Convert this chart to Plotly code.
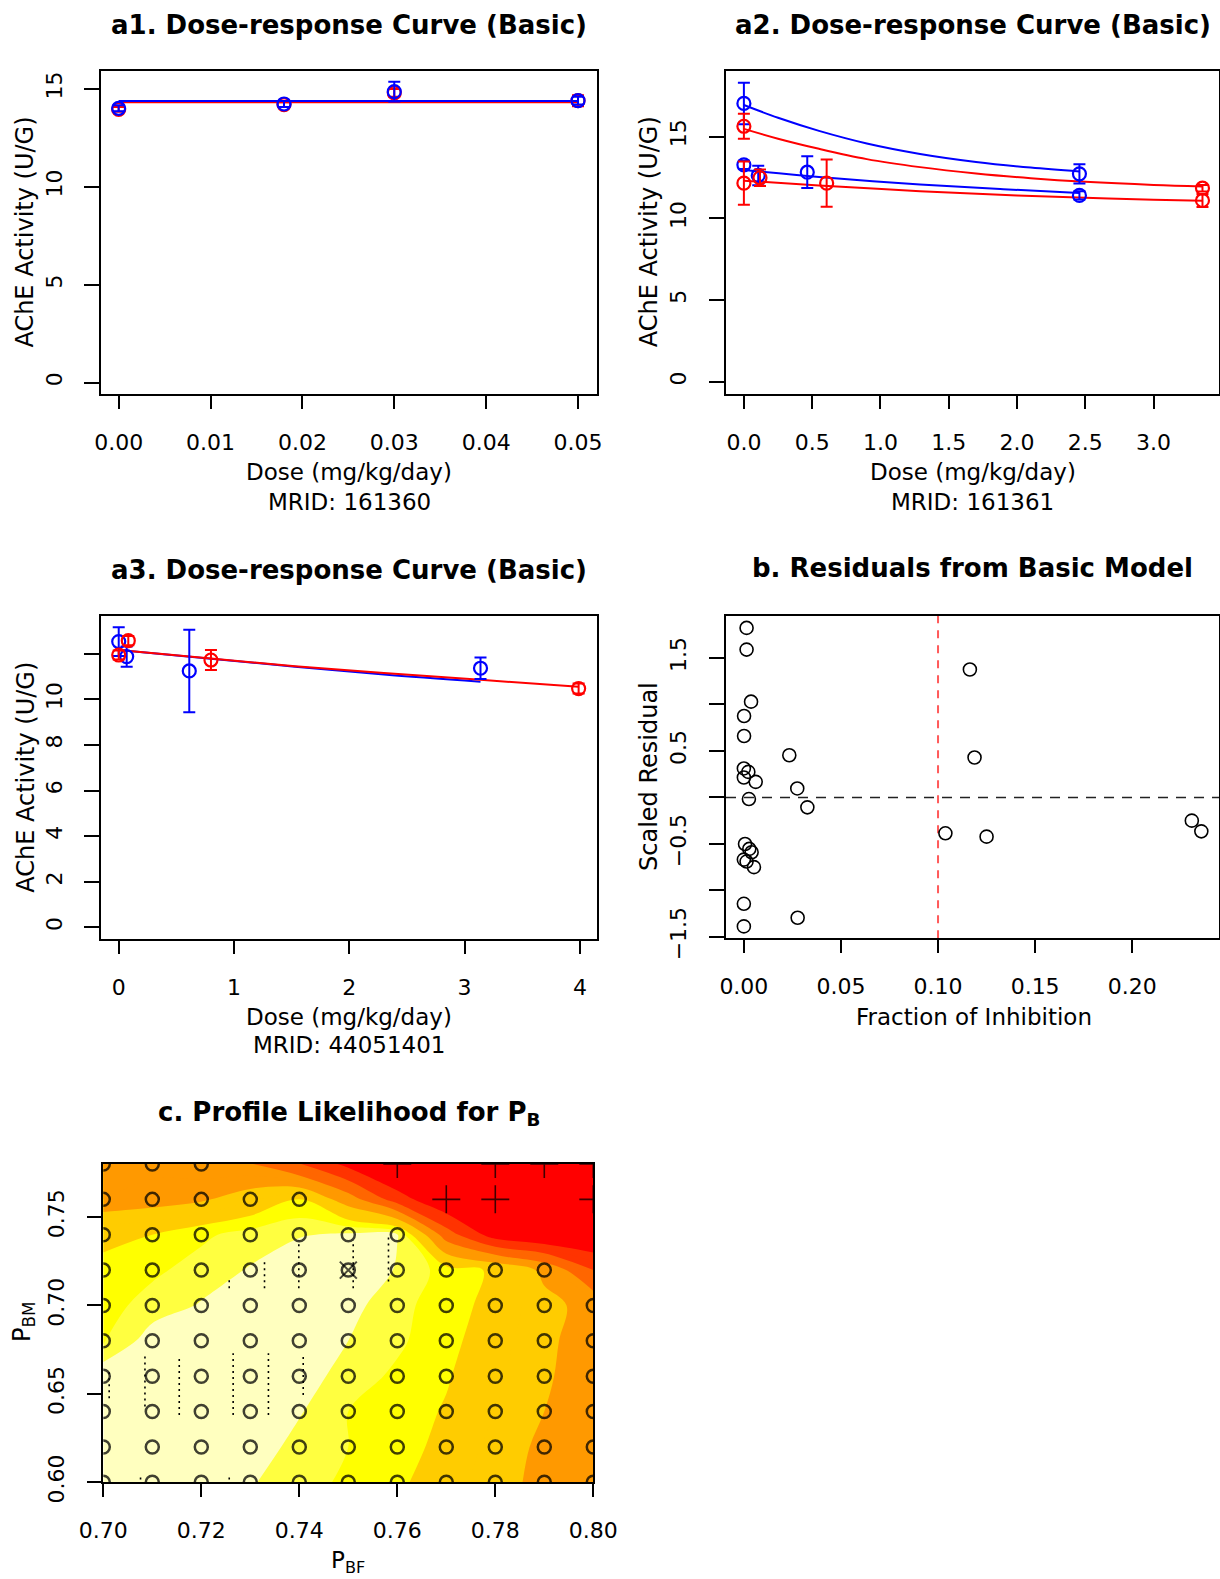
import plotly.graph_objects as go

W, H = 1220, 1579
FONT = "DejaVu Sans"
BLUE, RED = "#0000FF", "#FF0000"

# ---------------- a1: MRID 161360 ----------------
a1_dose = [0.0, 0.018, 0.03, 0.05]
a1_blue = [14.01, 14.23, 14.86, 14.40]
a1_blue_err = [0.15, 0.15, 0.50, 0.20]
a1_red = [13.95, 14.20, 14.80, 14.40]
a1_red_err = [0.12, 0.12, 0.20, 0.28]
a1_fit_dose = [0.0, 0.05]
a1_fit_blue = [14.38, 14.38]
a1_fit_red = [14.32, 14.32]

# ---------------- a2: MRID 161361 (two studies per sex) ----------------
a2_blue_dose = [0.0, 0.0, 0.105, 0.464, 2.457, 2.457]
a2_blue = [17.03, 13.27, 12.62, 12.82, 12.72, 11.40]
a2_blue_err = [1.27, 0.25, 0.60, 0.97, 0.59, 0.25]
a2_red_dose = [0.0, 0.0, 0.118, 0.606, 3.358, 3.358]
a2_red = [15.63, 12.15, 12.48, 12.15, 11.84, 11.09]
a2_red_err = [0.77, 1.32, 0.50, 1.45, 0.20, 0.40]
a2_fit_blue_hi_dose = [0.0, 0.25, 0.55, 0.9, 1.29, 1.7, 2.1, 2.457]
a2_fit_blue_hi = [16.93, 16.15, 15.35, 14.58, 13.94, 13.45, 13.10, 12.86]
a2_fit_red_hi_dose = [0.0, 0.25, 0.55, 0.9, 1.29, 1.7, 2.1, 2.5, 3.0, 3.358]
a2_fit_red_hi = [15.47, 14.87, 14.25, 13.62, 13.13, 12.74, 12.45, 12.23, 12.04, 11.95]
a2_fit_blue_lo_dose = [0.0, 0.55, 1.29, 1.9, 2.457]
a2_fit_blue_lo = [12.95, 12.52, 12.07, 11.78, 11.54]
a2_fit_red_lo_dose = [0.0, 0.55, 1.29, 2.0, 2.5, 3.0, 3.358]
a2_fit_red_lo = [12.30, 12.01, 11.66, 11.40, 11.26, 11.13, 11.07]

# ---------------- a3: MRID 44051401 ----------------
a3_blue_dose = [0.0, 0.069, 0.612, 3.138]
a3_blue = [12.53, 11.87, 11.24, 11.36]
a3_blue_err = [0.63, 0.44, 1.81, 0.47]
a3_red_dose = [0.0, 0.083, 0.80, 3.989]
a3_red = [11.94, 12.57, 11.72, 10.47]
a3_red_err = [0.20, 0.20, 0.44, 0.22]
a3_fit_blue_dose = [0.0, 0.8, 1.53, 2.3, 3.138]
a3_fit_blue = [12.16, 11.78, 11.43, 11.08, 10.77]
a3_fit_red_dose = [0.0, 0.8, 1.53, 2.3, 3.138, 3.989]
a3_fit_red = [12.16, 11.79, 11.45, 11.15, 10.85, 10.55]

# ---------------- b: residuals ----------------
b_frac = [0.0014, 0.0014, 0.1164, 0.0037, 0.0001, 0.0001, 0.0234, 0.1188,
          0.0, 0.0023, 0.0, 0.0061, 0.0275, 0.0026, 0.0327, 0.2307, 0.2356,
          0.1038, 0.1250, 0.0006, 0.0028, 0.0040, 0.0, 0.0014, 0.0052, 0.0,
          0.0277, 0.0]
b_resid = [1.822, 1.589, 1.375, 1.029, 0.875, 0.660, 0.453, 0.429, 0.311,
           0.274, 0.214, 0.167, 0.096, -0.018, -0.107, -0.250, -0.365, -0.386,
           -0.422, -0.501, -0.554, -0.590, -0.669, -0.690, -0.750, -1.144,
           -1.294, -1.387]
b_threshold = 0.10

# ---------------- c: profile likelihood grid ----------------
c_pbf = [0.70, 0.71, 0.72, 0.73, 0.74, 0.75, 0.76, 0.77, 0.78, 0.79, 0.80]
c_pbm = [0.60, 0.62, 0.64, 0.66, 0.68, 0.70, 0.72, 0.74, 0.76, 0.78]
# deviance from the best fit, one row per P_BM value
c_dev = [
    [0.20, 0.35, 0.60, 0.95, 1.30, 1.60, 1.90, 2.30, 2.75, 3.20, 3.50],
    [0.20, 0.30, 0.45, 0.66, 1.20, 1.50, 1.80, 2.15, 2.65, 3.15, 3.50],
    [0.40, 0.25, 0.30, 0.50, 0.95, 1.50, 1.75, 2.05, 2.50, 3.00, 3.40],
    [0.60, 0.40, 0.30, 0.35, 0.70, 1.25, 1.60, 1.95, 2.40, 2.90, 3.40],
    [1.60, 0.70, 0.40, 0.30, 0.50, 1.00, 1.40, 1.85, 2.30, 2.85, 3.35],
    [1.70, 1.30, 0.95, 0.50, 0.30, 0.80, 1.35, 1.75, 2.20, 2.75, 3.30],
    [1.90, 1.60, 1.30, 0.95, 0.50, 0.00, 1.10, 1.70, 2.10, 3.20, 5.00],
    [2.10, 2.00, 1.60, 1.30, 1.05, 0.90, 0.97, 4.50, 6.50, 7.00, 7.00],
    [3.50, 3.30, 3.10, 2.60, 2.00, 3.50, 5.50, 7.00, 7.50, 7.50, 7.50],
    [3.60, 3.65, 3.80, 3.95, 4.95, 6.30, 7.50, 8.00, 8.00, 8.00, 8.00],
]
# fit status per grid point: o = converged, + = boundary, X = best, . = none
c_status = [
    "ooooooooooo",
    "ooooooooooo",
    "ooooooooooo",
    "ooooooooooo",
    "ooooooooooo",
    "ooooooooooo",
    "oooooXoooo.",
    "ooooooo....",
    "ooooo..++.+",
    "ooo...+.+++",
]
# dotted interval segments: (P_BF, P_BM low, P_BM high)
c_seg_pbf = [0.7012, 0.7085, 0.7155, 0.7265, 0.7337, 0.7408,
             0.7257, 0.7329, 0.7399, 0.7510, 0.7582, 0.7076, 0.7257]
c_seg_lo = [0.6475, 0.6428, 0.6381, 0.6381, 0.6381, 0.6494,
            0.7097, 0.7097, 0.7097, 0.7097, 0.7135, 0.6016, 0.6016]
c_seg_hi = [0.6645, 0.6730, 0.6720, 0.6730, 0.6730, 0.6730,
            0.7144, 0.7248, 0.7370, 0.7370, 0.7399, 0.6030, 0.6030]

heat_levels = [1.0, 1.5, 2.0, 3.0, 4.0, 5.0, 6.0]
heat_colors = ["#FFFFBF", "#FFFF40", "#FFFF00", "#FFCC00", "#FF9900",
               "#FF6600", "#FF3300", "#FF0000"]


def px_x(p):
    return p / W


def px_y(p):
    return 1 - p / H


fig = go.Figure()


def add_points(xa, ya, x, y, err, color):
    fig.add_trace(go.Scatter(
        x=x, y=y, mode="markers", xaxis=xa, yaxis=ya,
        marker=dict(symbol="circle-open", size=13, color=color,
                    line=dict(width=2.2, color=color)),
        error_y=dict(type="data", array=err, color=color, thickness=2, width=6),
        showlegend=False, hoverinfo="skip"))


def add_curve(xa, ya, x, y, color, shape="spline"):
    fig.add_trace(go.Scatter(
        x=x, y=y, mode="lines", xaxis=xa, yaxis=ya,
        line=dict(color=color, width=2, shape=shape, smoothing=1.0),
        showlegend=False, hoverinfo="skip"))


# a1
add_curve("x", "y", a1_fit_dose, a1_fit_red, RED, "linear")
add_curve("x", "y", a1_fit_dose, a1_fit_blue, BLUE, "linear")
add_points("x", "y", a1_dose, a1_red, a1_red_err, RED)
add_points("x", "y", a1_dose, a1_blue, a1_blue_err, BLUE)

# a2
add_curve("x2", "y2", a2_fit_blue_hi_dose, a2_fit_blue_hi, BLUE)
add_curve("x2", "y2", a2_fit_red_hi_dose, a2_fit_red_hi, RED)
add_curve("x2", "y2", a2_fit_blue_lo_dose, a2_fit_blue_lo, BLUE)
add_curve("x2", "y2", a2_fit_red_lo_dose, a2_fit_red_lo, RED)
add_points("x2", "y2", a2_blue_dose, a2_blue, a2_blue_err, BLUE)
add_points("x2", "y2", a2_red_dose, a2_red, a2_red_err, RED)

# a3
add_curve("x3", "y3", a3_fit_blue_dose, a3_fit_blue, BLUE)
add_curve("x3", "y3", a3_fit_red_dose, a3_fit_red, RED)
add_points("x3", "y3", a3_blue_dose, a3_blue, a3_blue_err, BLUE)
add_points("x3", "y3", a3_red_dose, a3_red, a3_red_err, RED)

# b
fig.add_trace(go.Scatter(
    x=b_frac, y=b_resid, mode="markers", xaxis="x4", yaxis="y4",
    marker=dict(symbol="circle-open", size=13, color="black",
                line=dict(width=1.6, color="black")),
    showlegend=False, hoverinfo="skip"))
fig.add_shape(type="line", xref="x4", yref="y4 domain", x0=b_threshold,
              x1=b_threshold, y0=0, y1=1, layer="below",
              line=dict(color="#FF5A5A", width=2, dash="8px,7px"))
fig.add_shape(type="line", xref="x4 domain", yref="y4", x0=0, x1=1, y0=0,
              y1=0, layer="below",
              line=dict(color="#222222", width=1.5, dash="10px,8px"))

# c: filled likelihood bands
zlo, zhi = 0.5, 7.0  # colour-map domain used by filled contours (start - size .. end)


def norm(v):
    return (v - zlo) / (zhi - zlo)


cscale = [[0.0, heat_colors[0]]]
for k, lv in enumerate(heat_levels):
    cscale.append([norm(lv), heat_colors[k]])
    cscale.append([norm(lv), heat_colors[k + 1]])
cscale.append([1.0, heat_colors[-1]])

fig.add_trace(go.Contour(
    x=c_pbf, y=c_pbm, z=c_dev, xaxis="x5", yaxis="y5",
    contours=dict(start=1.0, end=7.0, size=0.5, coloring="fill",
                  showlines=False),
    colorscale=cscale, showscale=False, line=dict(width=0),
    hoverinfo="skip"))

seg_x, seg_y = [], []
for xv, lo, hi in zip(c_seg_pbf, c_seg_lo, c_seg_hi):
    seg_x += [xv, xv, None]
    seg_y += [lo, hi, None]
fig.add_trace(go.Scatter(
    x=seg_x, y=seg_y, mode="lines", xaxis="x5", yaxis="y5",
    line=dict(color="black", width=1.6, dash="2px,4px"),
    showlegend=False, hoverinfo="skip"))

pts = {"o": ([], []), "+": ([], []), "X": ([], [])}
for j, row in enumerate(c_status):
    for i, ch in enumerate(row):
        if ch in pts:
            pts[ch][0].append(c_pbf[i])
            pts[ch][1].append(c_pbm[j])
for ch, (xs, ys) in pts.items():
    if ch == "+":
        sym, size, lw = "cross-thin-open", 20, 1.6
    else:
        sym, size, lw = "circle-open", 13, 2.5
    fig.add_trace(go.Scatter(
        x=xs, y=ys, mode="markers", xaxis="x5", yaxis="y5",
        marker=dict(symbol=sym, size=size, color="rgba(0,0,0,0.75)",
                    line=dict(width=lw, color="rgba(0,0,0,0.75)")),
        showlegend=False, hoverinfo="skip"))
fig.add_trace(go.Scatter(
    x=pts["X"][0], y=pts["X"][1], mode="markers", xaxis="x5", yaxis="y5",
    marker=dict(symbol="x-thin-open", size=17, color="rgba(0,0,0,0.7)",
                line=dict(width=2, color="rgba(0,0,0,0.7)")),
    showlegend=False, hoverinfo="skip"))


def axis(domain, rng, vals, texts, anchor, ticklen, standoff, angle=0,
         minor_vals=None):
    ax = dict(domain=domain, range=rng, tickvals=vals, ticktext=texts,
              anchor=anchor, showline=True, mirror=True, linecolor="black",
              linewidth=1.5, ticks="outside", ticklen=ticklen, tickwidth=1.5,
              tickcolor="black", showgrid=False, zeroline=False,
              automargin=False,
              tickfont=dict(family=FONT, size=22, color="black"),
              tickangle=angle, ticklabelstandoff=standoff, fixedrange=True)
    if minor_vals:
        ax["minor"] = dict(tickvals=minor_vals, ticks="outside",
                           ticklen=ticklen, tickwidth=1.5, tickcolor="black",
                           showgrid=False)
    return ax


LEFT = [px_x(101.2), px_x(597.3)]
RIGHT = [px_x(726), px_x(1219)]
TOP = [px_y(394), px_y(70.7)]
MID = [px_y(939), px_y(616)]

xt = 15
yt = 14
fig.update_layout(
    xaxis=axis(LEFT, [-0.0019, 0.0521], [0, 0.01, 0.02, 0.03, 0.04, 0.05],
               ["0.00", "0.01", "0.02", "0.03", "0.04", "0.05"], "y", 13, xt),
    yaxis=axis(TOP, [-0.58, 15.93], [0, 5, 10, 15], ["0", "5", "10", "15"],
               "x", 15, yt, -90),
    xaxis2=axis(RIGHT, [-0.131, 3.479], [0, 0.5, 1, 1.5, 2, 2.5, 3],
                ["0.0", "0.5", "1.0", "1.5", "2.0", "2.5", "3.0"], "y2", 13, xt),
    yaxis2=axis(TOP, [-0.75, 19.03], [0, 5, 10, 15], ["0", "5", "10", "15"],
                "x2", 15, yt, -90),
    xaxis3=axis(LEFT, [-0.152, 4.151], [0, 1, 2, 3, 4],
                ["0", "1", "2", "3", "4"], "y3", 13, xt),
    yaxis3=axis(MID, [-0.51, 13.65], [0, 2, 4, 6, 8, 10],
                ["0", "2", "4", "6", "8", "10"], "x3", 15, yt, -90,
                minor_vals=[12]),
    xaxis4=axis(RIGHT, [-0.0092, 0.2447], [0, 0.05, 0.10, 0.15, 0.20],
                ["0.00", "0.05", "0.10", "0.15", "0.20"], "y4", 13, xt),
    yaxis4=axis([px_y(938.3), px_y(616)], [-1.515, 1.95],
                [-1.5, -0.5, 0.5, 1.5],
                ["\u22121.5", "\u22120.5", "0.5", "1.5"],
                "x4", 15, yt, -90, minor_vals=[-1.0, 0.0, 1.0]),
    xaxis5=axis([px_x(103.3), px_x(593.3)], [0.70, 0.80],
                [0.70, 0.72, 0.74, 0.76, 0.78, 0.80],
                ["0.70", "0.72", "0.74", "0.76", "0.78", "0.80"], "y5", 13, xt),
    yaxis5=axis([px_y(1482.3), px_y(1164)], [0.60, 0.78],
                [0.60, 0.65, 0.70, 0.75], ["0.60", "0.65", "0.70", "0.75"],
                "x5", 15, yt, -90),
)

annotations = []


def label(text, x, y, size=23, angle=0, bold=False):
    annotations.append(dict(
        text=f"<b>{text}</b>" if bold else text, x=px_x(x), y=px_y(y),
        xref="paper", yref="paper", xanchor="center", yanchor="middle",
        showarrow=False, textangle=angle,
        font=dict(family=FONT, size=size, color="black")))


label("a1. Dose-response Curve (Basic)", 349.2, 25, 26, bold=True)
label("a2. Dose-response Curve (Basic)", 972.5, 25, 26, bold=True)
label("a3. Dose-response Curve (Basic)", 349.2, 570, 26, bold=True)
label("b. Residuals from Basic Model", 972.5, 568, 26, bold=True)
label("c. Profile Likelihood for P<sub>B</sub>", 349, 1113, 26, bold=True)

label("Dose (mg/kg/day)", 349.2, 471.7)
label("MRID: 161360", 349.2, 501.7)
label("Dose (mg/kg/day)", 972.5, 471.7)
label("MRID: 161361", 972.5, 501.7)
label("Dose (mg/kg/day)", 349.2, 1016.7)
label("MRID: 44051401", 349.2, 1045)
label("Fraction of Inhibition", 974, 1016.7)
label("P<sub>BF</sub>", 348, 1561.7)

label("AChE Activity (U/G)", 25.3, 232.3, size=24, angle=-90)
label("AChE Activity (U/G)", 649, 232.3, size=24, angle=-90)
label("AChE Activity (U/G)", 25.3, 777.5, size=24, angle=-90)
label("Scaled Residual", 649, 777, size=24, angle=-90)
label("P<sub>BM</sub>", 23, 1322, size=24, angle=-90)

fig.update_layout(
    template="none",
    width=W, height=H, margin=dict(l=0, r=0, t=0, b=0, pad=0),
    paper_bgcolor="white", plot_bgcolor="white", showlegend=False,
    annotations=annotations, font=dict(family=FONT, color="black"),
)

fig.write_html("out.html")
